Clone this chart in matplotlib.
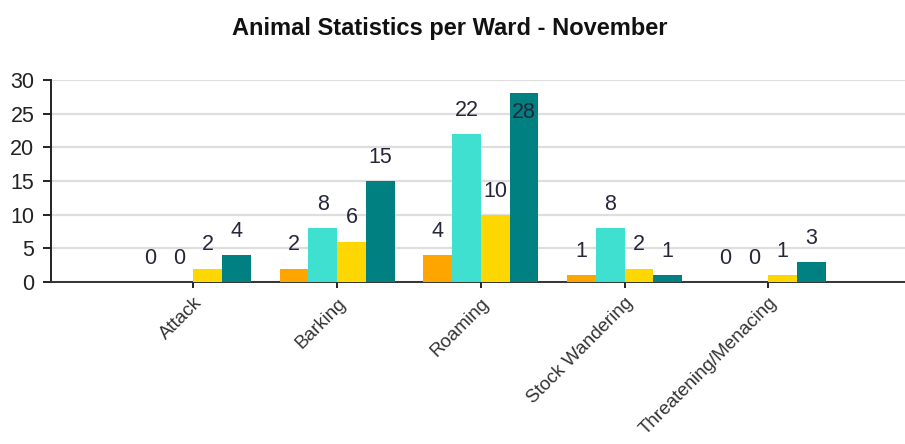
# animal statistics per ward - grouped bars

import numpy as np
import matplotlib.pyplot as plt

categories = ['Attack', 'Barking', 'Roaming', 'Stock Wandering', 'Threatening/Menacing']
series_a = [0, 2, 4, 1, 0]     # orange
series_b = [0, 8, 22, 8, 0]    # turquoise
series_c = [2, 6, 10, 2, 1]    # gold
series_d = [4, 15, 28, 1, 3]   # teal
yticks = [0, 5, 10, 15, 20, 25, 30]

colors = ['#FFA500', '#40E0D0', '#FFD700', '#008080']
label_color = '#26263a'

plt.rcParams['font.family'] = ['Liberation Sans', 'DejaVu Sans']

fig = plt.figure(figsize=(9.05, 4.44), dpi=100)
ax = fig.add_axes([51/905, 162/444, (905-51)/905, 202/444])

x = np.arange(len(categories))
width = 0.2
offsets = [-0.3, -0.1, 0.1, 0.3]
ymax = 30

for vals, off, col in zip([series_a, series_b, series_c, series_d], offsets, colors):
	ax.bar(x + off, vals, width, color=col, zorder=3)
	for xi, v in zip(x + off, vals):
		# label goes inside the bar if it would run off the top
		if v + 3.6 > ymax:
			ax.annotate(str(v), (xi, v), xytext=(0, -14), textcoords='offset points',
						ha='center', va='center', fontsize=15.5, color=label_color, zorder=4)
		else:
			ax.annotate(str(v), (xi, v), xytext=(0, 17), textcoords='offset points',
						ha='center', va='center', fontsize=15.5, color=label_color, zorder=4)

ax.set_xlim(-0.99, 4.95)
ax.set_ylim(0, ymax)
ax.set_yticks(yticks)
ax.yaxis.grid(True, color='#dedede', linewidth=1.6, zorder=0)
ax.set_axisbelow(True)

for s in ['top', 'right']:
	ax.spines[s].set_visible(False)
ax.spines['left'].set_linewidth(1.4)
ax.spines['bottom'].set_linewidth(1.4)
ax.spines['left'].set_color('#222222')
ax.spines['bottom'].set_color('#333333')

ax.tick_params(axis='y', length=6, width=1.4, pad=6, labelsize=15.5, labelcolor='#222222', colors='#222222')
ax.tick_params(axis='x', length=4, width=1.4, pad=5, labelsize=13.5, labelcolor='#333333', colors='#222222')
ax.set_xticks(x)
ax.set_xticklabels(categories, rotation=45, ha='right', rotation_mode='anchor')

fig.text(0.497, 1 - 29/444, 'Animal Statistics per Ward - November', ha='center', va='center',
		 fontsize=17, fontweight='bold', color='#111111')

plt.savefig('out.png', dpi=100)
plt.close()
